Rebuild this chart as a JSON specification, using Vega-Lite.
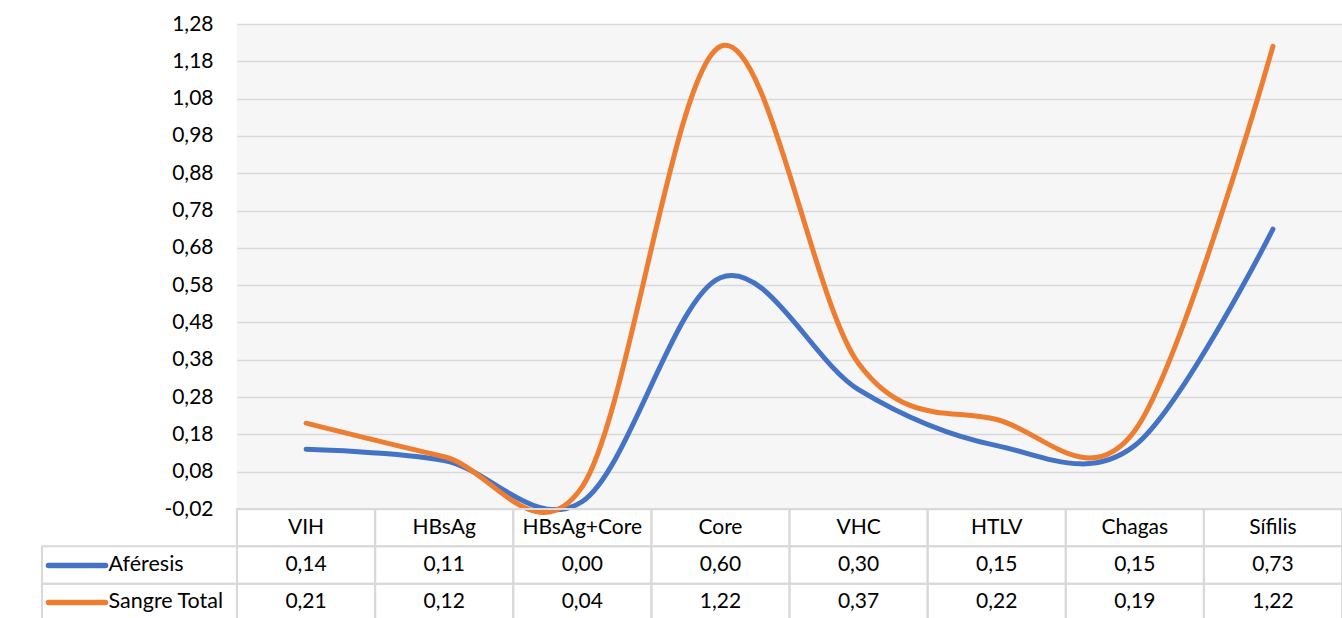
{
  "$schema": "https://vega.github.io/schema/vega-lite/v6.json",
  "padding": {"left": 41, "top": 13, "right": 0, "bottom": 0},
  "background": "white",
  "datasets": {
    "valores": [
      {"categoria": "VIH", "serie": "Aféresis", "valor": 0.14},
      {"categoria": "HBsAg", "serie": "Aféresis", "valor": 0.11},
      {"categoria": "HBsAg+Core", "serie": "Aféresis", "valor": 0.00},
      {"categoria": "Core", "serie": "Aféresis", "valor": 0.60},
      {"categoria": "VHC", "serie": "Aféresis", "valor": 0.30},
      {"categoria": "HTLV", "serie": "Aféresis", "valor": 0.15},
      {"categoria": "Chagas", "serie": "Aféresis", "valor": 0.15},
      {"categoria": "Sífilis", "serie": "Aféresis", "valor": 0.73},
      {"categoria": "VIH", "serie": "Sangre Total", "valor": 0.21},
      {"categoria": "HBsAg", "serie": "Sangre Total", "valor": 0.12},
      {"categoria": "HBsAg+Core", "serie": "Sangre Total", "valor": 0.04},
      {"categoria": "Core", "serie": "Sangre Total", "valor": 1.22},
      {"categoria": "VHC", "serie": "Sangre Total", "valor": 0.37},
      {"categoria": "HTLV", "serie": "Sangre Total", "valor": 0.22},
      {"categoria": "Chagas", "serie": "Sangre Total", "valor": 0.19},
      {"categoria": "Sífilis", "serie": "Sangre Total", "valor": 1.22}
    ]
  },
  "columns": 2,
  "spacing": 0,
  "bounds": "flush",
  "concat": [
    {
      "width": 195,
      "height": 485,
      "data": {"values": [{}]},
      "mark": {"type": "text", "text": ""},
      "encoding": {}
    },
    {
      "width": 1105,
      "height": 485,
      "data": {"name": "valores"},
      "view": {"fill": "#f6f6f6", "stroke": null},
      "mark": {"type": "line", "interpolate": "cardinal", "strokeWidth": 5, "strokeCap": "round"},
      "encoding": {
        "x": {
          "field": "categoria",
          "type": "nominal",
          "scale": {"type": "point", "padding": 0.5, "domain": ["VIH", "HBsAg", "HBsAg+Core", "Core", "VHC", "HTLV", "Chagas", "Sífilis"]},
          "axis": null
        },
        "y": {
          "field": "valor",
          "type": "quantitative",
          "scale": {"domain": [-0.02, 1.28], "nice": false, "zero": false},
          "axis": {
            "title": null,
            "values": [-0.02, 0.08, 0.18, 0.28, 0.38, 0.48, 0.58, 0.68, 0.78, 0.88, 0.98, 1.08, 1.18, 1.28],
            "labelExpr": "(datum.value < 0 ? '-' : '') + replace(format(abs(datum.value), '.2f'), '.', ',')",
            "ticks": false,
            "domain": false,
            "labelPadding": 24,
            "labelFont": "Lato",
            "labelFontSize": 21,
            "labelColor": "#000000",
            "gridColor": "#d9d9d9",
            "gridWidth": 1.5
          }
        },
        "color": {
          "field": "serie",
          "type": "nominal",
          "scale": {"domain": ["Aféresis", "Sangre Total"], "range": ["#4472C4", "#ED7D31"]},
          "legend": null
        },
        "detail": {"field": "serie"}
      }
    },
    {
      "width": 195,
      "height": 112,
      "data": {"name": "valores"},
      "view": {"stroke": null},
      "transform": [{"filter": "datum.categoria === 'VIH'"}],
      "mark": {"type": "rect", "fill": null, "stroke": "#d9d9d9", "strokeWidth": 2},
      "encoding": {
        "y": {
          "field": "serie",
          "type": "nominal",
          "scale": {"domain": ["Categoría", "Aféresis", "Sangre Total"], "paddingInner": 0, "paddingOuter": 0},
          "axis": {
            "title": null,
            "values": ["Aféresis", "Sangre Total"],
            "orient": "left",
            "offset": -63,
            "domain": false,
            "grid": false,
            "ticks": true,
            "tickSize": 57,
            "tickWidth": 5.5,
            "tickCap": "round",
            "tickColor": {"condition": {"test": "datum.value === 'Aféresis'", "value": "#4472C4"}, "value": "#ED7D31"},
            "labelAlign": "left",
            "labelPadding": -60,
            "labelFont": "Lato",
            "labelFontSize": 21.5,
            "labelColor": "#000000"
          }
        }
      }
    },
    {
      "width": 1105,
      "height": 112,
      "view": {"stroke": null},
      "layer": [
        {
          "data": {"name": "valores"},
          "mark": {"type": "rect", "fill": null, "stroke": "#d9d9d9", "strokeWidth": 2},
          "encoding": {
            "x": {"field": "categoria", "type": "nominal"},
            "y": {"field": "serie", "type": "nominal"}
          }
        },
        {
          "data": {"name": "valores"},
          "transform": [{"filter": "datum.serie === 'Aféresis'"}],
          "mark": {"type": "rect", "fill": null, "stroke": "#d9d9d9", "strokeWidth": 2},
          "encoding": {
            "x": {"field": "categoria", "type": "nominal"},
            "y": {"datum": "Categoría"}
          }
        },
        {
          "data": {"name": "valores"},
          "transform": [{"filter": "datum.serie === 'Aféresis'"}],
          "mark": {"type": "text", "font": "Lato", "fontSize": 21, "color": "#000000"},
          "encoding": {
            "x": {"field": "categoria", "type": "nominal"},
            "y": {"datum": "Categoría"},
            "text": {"field": "categoria"}
          }
        },
        {
          "data": {"name": "valores"},
          "transform": [{"calculate": "replace(format(datum.valor, '.2f'), '.', ',')", "as": "etiqueta"}],
          "mark": {"type": "text", "font": "Lato", "fontSize": 21, "color": "#000000"},
          "encoding": {
            "x": {"field": "categoria", "type": "nominal"},
            "y": {"field": "serie", "type": "nominal"},
            "text": {"field": "etiqueta"}
          }
        }
      ],
      "encoding": {
        "x": {
          "scale": {"domain": ["VIH", "HBsAg", "HBsAg+Core", "Core", "VHC", "HTLV", "Chagas", "Sífilis"], "paddingInner": 0, "paddingOuter": 0},
          "axis": null
        },
        "y": {
          "scale": {"domain": ["Categoría", "Aféresis", "Sangre Total"], "paddingInner": 0, "paddingOuter": 0},
          "axis": null
        }
      }
    }
  ],
  "config": {
    "view": {"stroke": null},
    "font": "Lato"
  }
}
